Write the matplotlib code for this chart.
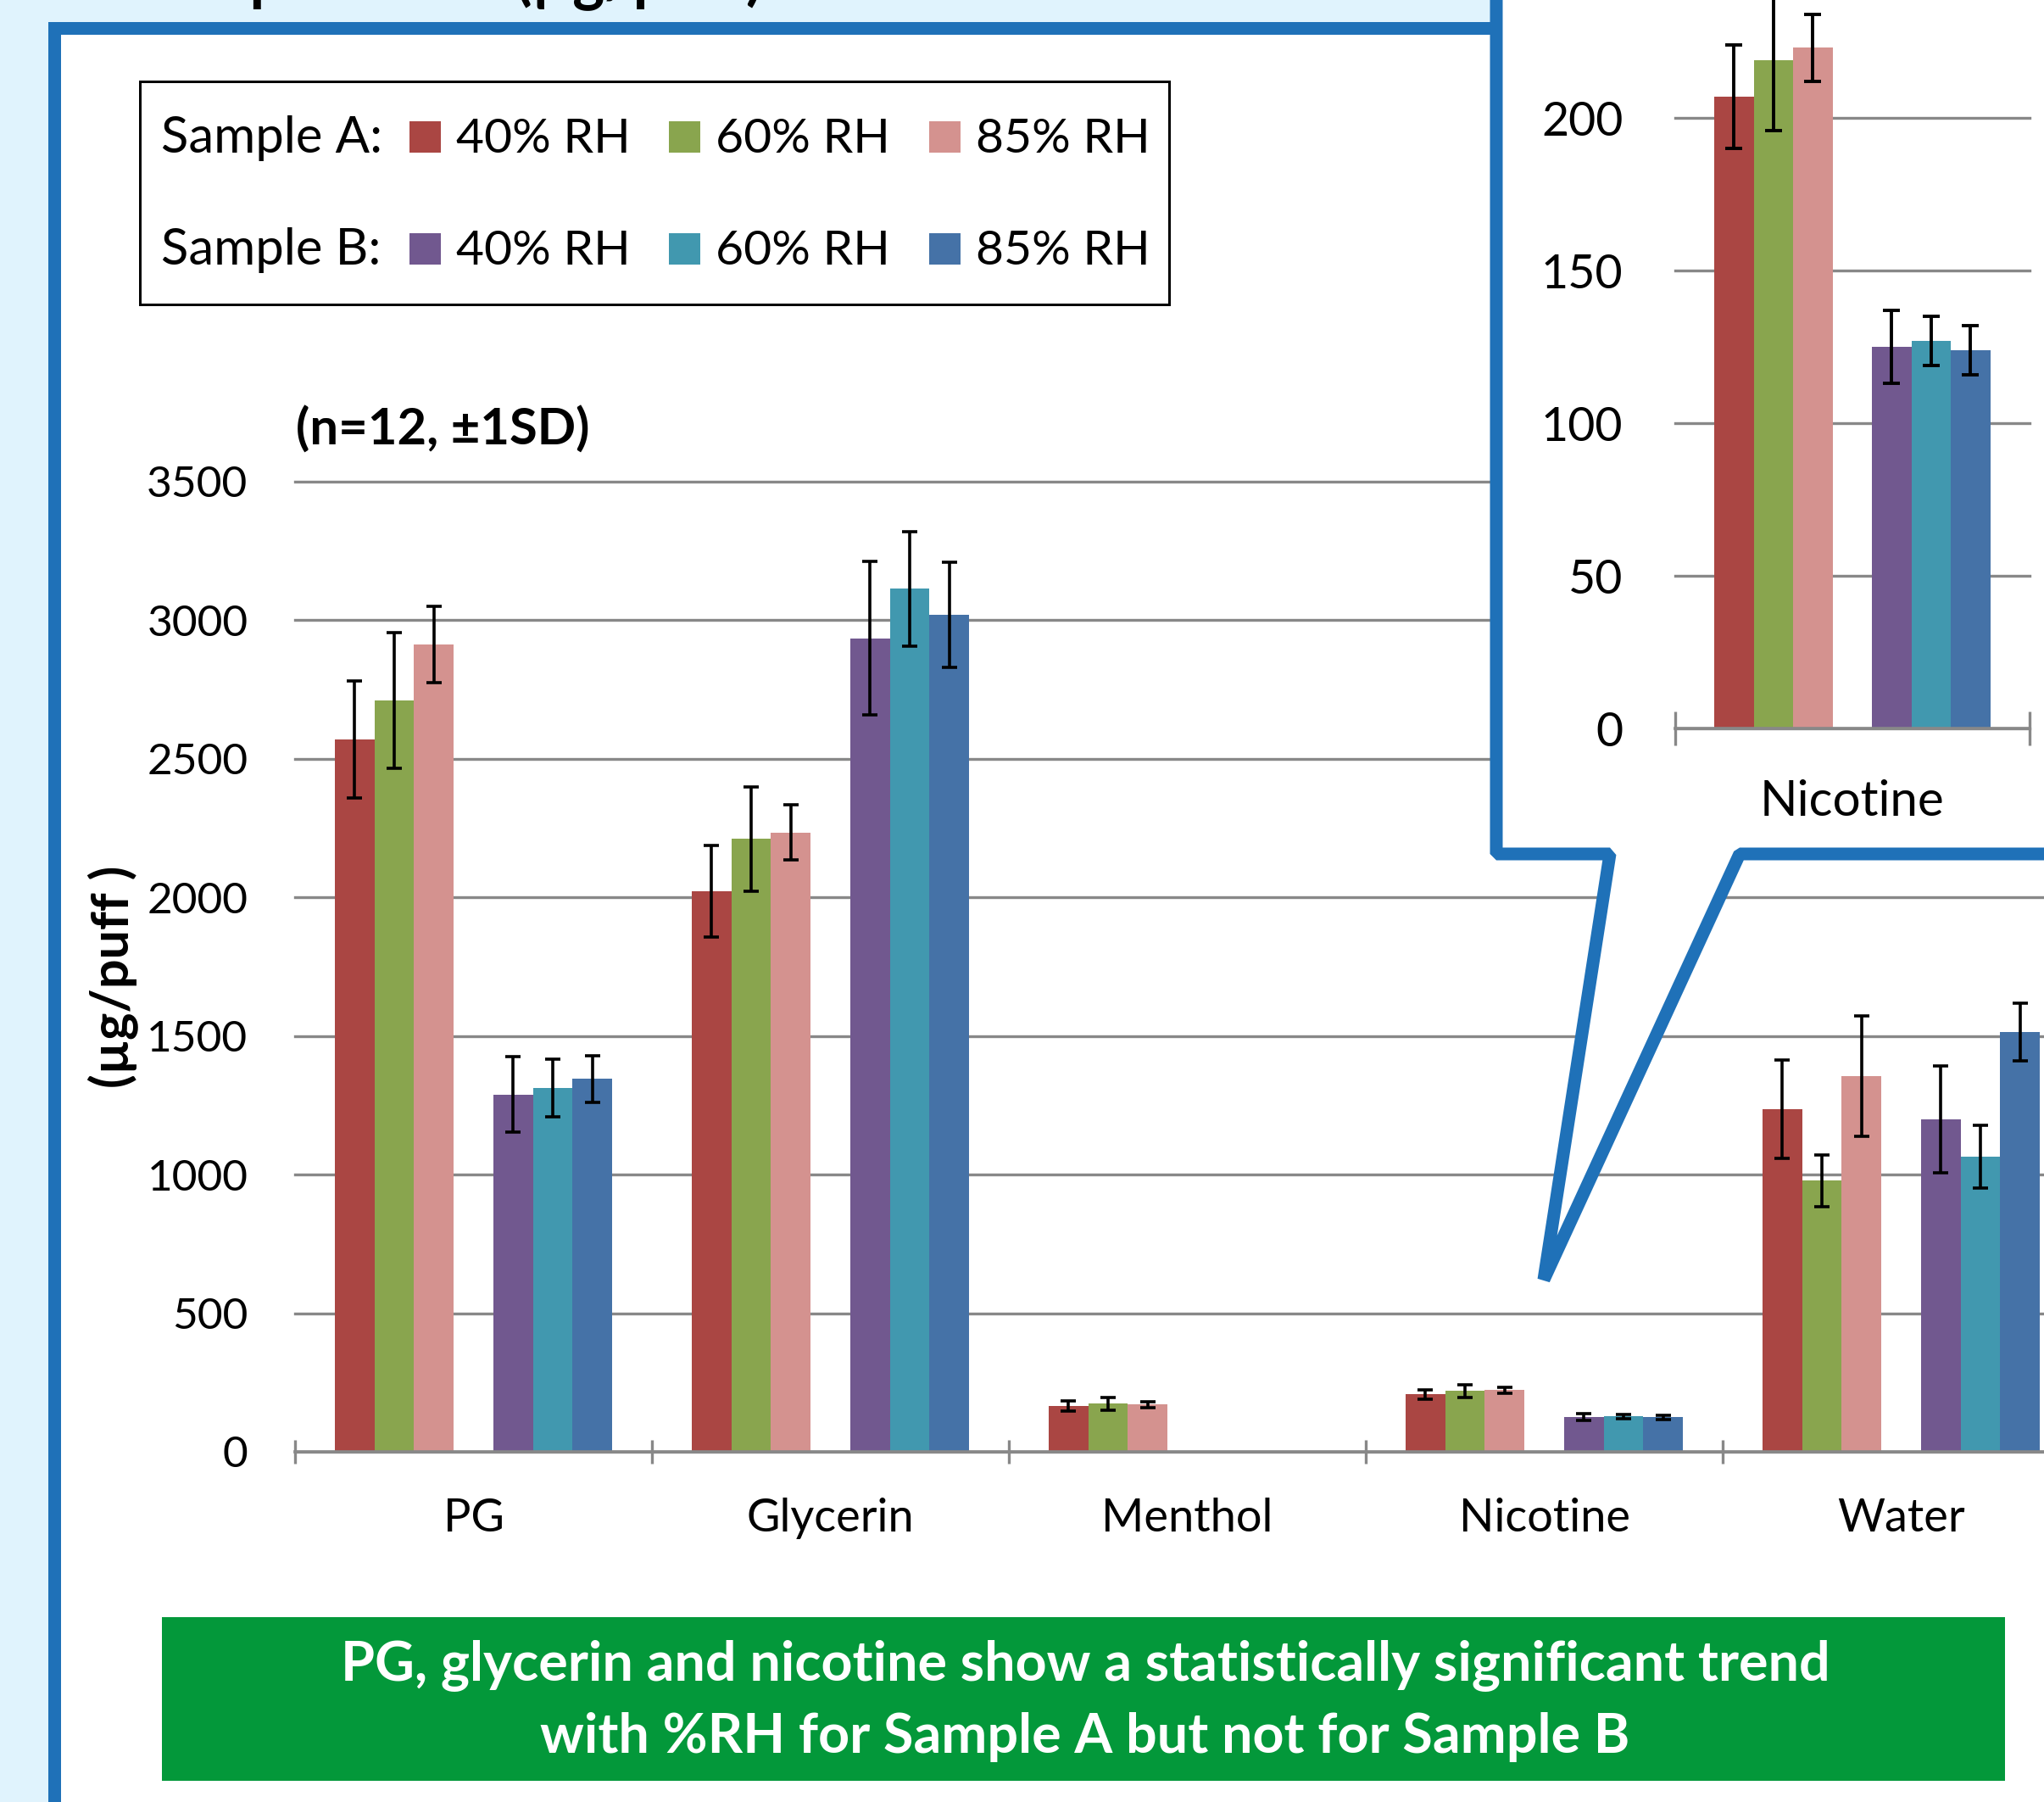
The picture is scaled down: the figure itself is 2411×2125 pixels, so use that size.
import numpy as np
import matplotlib.pyplot as plt
from matplotlib.patches import Rectangle, Polygon

# canvas in pixels (figure is drawn at dpi 100)
W, H = 2411, 2125
DPI = 100

# data (µg/puff, mean and 1 SD, n=12)
categories = ['PG', 'Glycerin', 'Menthol', 'Nicotine', 'Water']
a40 = [2570, 2023, 165, 207, 1236]
a40_sd = [212, 165, 19, 17, 176]
a60 = [2710, 2211, 173, 219, 978]
a60_sd = [245, 188, 23, 23, 93]
a85 = [2912, 2234, 170, 223, 1355]
a85_sd = [137, 100, 10, 11, 218]
b40 = [1289, 2935, 0, 125, 1200]
b40_sd = [136, 277, 0, 12, 193]
b60 = [1312, 3114, 0, 127, 1064]
b60_sd = [104, 207, 0, 8, 113]
b85 = [1345, 3020, 0, 124, 1514]
b85_sd = [85, 190, 0, 8, 103]
rh_labels = ['40% RH', '60% RH', '85% RH']

BG = '#E0F3FD'
BLUE = '#1F71B8'
GRID = '#888888'
GREEN = '#03983A'
colors_a = ['#AA4643', '#89A54E', '#D4928F']
colors_b = ['#71588F', '#4198AF', '#4572A7']

series = [(a40, a40_sd, colors_a[0]), (a60, a60_sd, colors_a[1]), (a85, a85_sd, colors_a[2]),
          (b40, b40_sd, colors_b[0]), (b60, b60_sd, colors_b[1]), (b85, b85_sd, colors_b[2])]
offsets = np.array([-3, -2, -1, 1, 2, 3]) / 9
bar_w = 1 / 9


def fx(x):
    return x / W


def fy(y):
    return 1 - y / H


def px_rect(x0, y0, x1, y1):
    # pixel box (top-left origin) -> figure fraction [left, bottom, width, height]
    return [x0 / W, 1 - y1 / H, (x1 - x0) / W, (y1 - y0) / H]


def pt(px):
    return px * 72 / DPI


plt.rcParams['font.family'] = ['Lato', 'DejaVu Sans']

fig = plt.figure(figsize=(W / DPI, H / DPI), dpi=DPI, facecolor=BG)

# white panel with blue frame
fig.add_artist(Rectangle((fx(64), fy(2400)), (2700 - 64) / W, (2400 - 33) / H,
                         transform=fig.transFigure, facecolor='white', edgecolor=BLUE,
                         linewidth=pt(15), zorder=-1))

# title, mostly cut off at the top
fig.text(fx(900), 1 + 2 / H, 'Speciation (µg/puff)', ha='right', va='baseline',
         fontsize=pt(72), fontweight='bold')


def draw_bars(ax, idx, lw, cap):
    x = np.arange(len(idx))
    for off, (vals, sd, col) in zip(offsets, series):
        v = np.array([vals[i] for i in idx], dtype=float)
        e = np.array([sd[i] for i in idx], dtype=float)
        ax.bar(x + off, v, width=bar_w, color=col, zorder=2)
        m = e > 0
        ax.errorbar((x + off)[m], v[m], yerr=e[m], fmt='none', ecolor='black',
                    elinewidth=lw, capsize=cap, capthick=lw, zorder=3)


def style_axis(ax, ymax, step, ysize, xsize, ypad, xpad, tick_len):
    ax.set_facecolor('none')
    ax.set_ylim(0, ymax)
    ax.set_yticks(np.arange(0, ymax + 1, step))
    ax.yaxis.grid(True, color=GRID, linewidth=2.4)
    for gl in ax.get_ygridlines():
        gl.set_clip_on(False)
    ax.set_axisbelow(True)
    for s in ['left', 'right', 'top']:
        ax.spines[s].set_visible(False)
    ax.spines['bottom'].set_color(GRID)
    ax.spines['bottom'].set_linewidth(2.6)
    ax.tick_params(axis='y', length=0, pad=ypad, labelsize=ysize)
    ax.tick_params(axis='x', which='major', length=0, pad=xpad, labelsize=xsize)
    ax.tick_params(axis='x', which='minor', direction='inout', length=tick_len,
                   width=2.4, color=GRID)


# main chart
ax = fig.add_axes(px_rect(348, 568, 348 + 5 * 421, 1712))
ax.set_xlim(-0.5, 4.5)
draw_bars(ax, range(5), 2.6, 6.5)
style_axis(ax, 3500, 500, 37, 39, 40, 39, 20.7)
ax.set_xticks(np.arange(5))
ax.set_xticklabels(categories)
ax.set_xticks(np.arange(-0.5, 5, 1), minor=True)
ax.set_ylabel('(µg/puff )', fontsize=44, fontweight='bold')
ax.yaxis.label.set_va('center')
ax.yaxis.set_label_coords((134 - 348) / 2105, (1712 - 1152) / 1144)

fig.text(fx(349), fy(525), '(n=12, ±1SD)', ha='left', va='baseline',
         fontsize=43, fontweight='bold')

# callout box with the nicotine close-up
callout = [(1765, -100), (1765, 1007), (1899, 1007), (1821, 1509), (2052, 1007),
           (2700, 1007), (2700, -100)]
fig.add_artist(Polygon([(fx(x), fy(y)) for x, y in callout], closed=True,
                       transform=fig.transFigure, facecolor='white', edgecolor=BLUE,
                       linewidth=pt(15), joinstyle='bevel', zorder=2))

ins = fig.add_axes(px_rect(1975.5, 859.2 - 250 * 3.6, 2394, 859.2))
ins.set_zorder(3)
ins.set_xlim(-0.5, 0.5)
draw_bars(ins, [3], 2.8, 7)
style_axis(ins, 250, 50, 40, 42, 44, 43, 29.5)
ins.set_xticks([0])
ins.set_xticklabels([categories[3]])
ins.set_xticks([-0.5, 0.5], minor=True)

# legend box
fig.add_artist(Rectangle((fx(165), fy(359)), (1379 - 165) / W, (359 - 96) / H,
                         transform=fig.transFigure, facecolor='white', edgecolor='black',
                         linewidth=pt(3), zorder=3))
rows = [('Sample A:', colors_a, 180), ('Sample B:', colors_b, 312)]
sq_x = [483, 789, 1096]
for name, cols, base in rows:
    fig.text(fx(190), fy(base), name, ha='left', va='baseline', fontsize=43, zorder=4)
    for sx, col, lab in zip(sq_x, cols, rh_labels):
        fig.add_artist(Rectangle((fx(sx), fy(base)), 37 / W, 37 / H, transform=fig.transFigure,
                                 facecolor=col, edgecolor='none', zorder=4))
        fig.text(fx(sx + 55), fy(base), lab, ha='left', va='baseline', fontsize=41, zorder=4)

# conclusion banner
fig.add_artist(Rectangle((fx(191), fy(2100)), (2365 - 191) / W, (2100 - 1907) / H,
                         transform=fig.transFigure, facecolor=GREEN, edgecolor='none', zorder=3))
fig.text(fx(1280), fy(1982), 'PG, glycerin and nicotine show a statistically significant trend',
         ha='center', va='baseline', fontsize=46.5, fontweight='bold', color='white', zorder=4)
fig.text(fx(1280), fy(2067), 'with %RH for Sample A but not for Sample B',
         ha='center', va='baseline', fontsize=46.5, fontweight='bold', color='white', zorder=4)

fig.savefig('out.png', dpi=DPI, facecolor=BG)
